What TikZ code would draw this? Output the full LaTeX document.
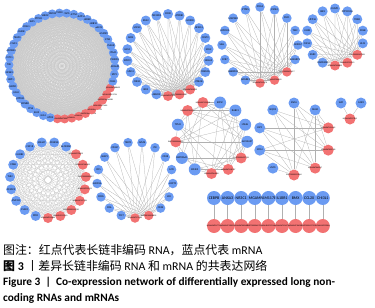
\documentclass[tikz,border=0pt]{standalone}
\usepackage{fontspec}
\setmainfont{Carlito}
\newfontfamily\cjk{Noto Sans CJK SC}
\usepackage{tikz}
\usetikzlibrary{backgrounds}
\definecolor{mrnablue}{HTML}{6B9BF2}
\definecolor{lncred}{HTML}{F27272}
\definecolor{edgegray}{HTML}{B0B0B0}

\begin{document}
\begin{tikzpicture}[x=1pt,y=1pt,
  mrna/.style={circle,inner sep=0pt,fill=mrnablue},
  lnc/.style={circle,inner sep=0pt,fill=lncred},
  lbl/.style={font=\fontsize{2.6}{3}\selectfont,inner sep=0pt},
  rlbl/.style={font=\fontsize{2}{2.4}\selectfont,inner sep=0pt},
  edge/.style={draw=edgegray,line width=0.25pt},
  dense/.style={draw=edgegray!70,line width=0.1pt}]
\path[use as bounding box] (0,0) rectangle (375,-308);

% Network 1: large ring, lncRNAs on the lower right, every pair linked.
\begin{scope}[shift={(62,-66)},minimum size=9pt]
\foreach \g [count=\k from 0] in {NONHSAT069814,ENST00000602414,
    NONHSAT102795,NONHSAT136651,ENST00000432916,NONHSAT050721,
    NONHSAT113485,ENST00000569381,NONHSAT021734,NONHSAT088432}
  \node[lnc,label={[rlbl,anchor=east,xshift=3pt]center:\g}] (a\k)
    at (-95+7.826*\k:53) {};
\foreach \g [count=\k from 10] in {CD44,SPP1,ADAM8,TXNRD1,ITGA5,PLAUR,
    ETS2,HMOX1,NACC2,GRB10,ARRB2,MMP14,DCTN1,CAPG,TGFBI,FBXO32,HBEGF,
    PTPN2,KLF5,FOSL1,RHOB,TEAD1,LYVE1,ADORA3,SYT11,TXK,NFKB1,NRP1,
    HSPB1,GAS1,ATP1B1,EDNRB,CTSK,ELK3,GJA1,APOE}
  \node[mrna,label={[lbl]center:\g}] (a\k) at (-95+7.826*\k:53) {};
\end{scope}
\begin{scope}[on background layer]
\foreach \i in {0,...,44}{
  \pgfmathtruncatemacro\nxt{\i+1}
  \foreach \j in {\nxt,...,45} \draw[dense] (a\i) -- (a\j);}
\end{scope}

% Network 2: ring with three lncRNAs at the bottom.
\begin{scope}[shift={(168,-55)},minimum size=10pt]
\foreach \g [count=\k from 0] in {NONHSAT097446,ENST00000519387,
    NONHSAT050132}
  \node[lnc,label={[rlbl]center:\g}] (b\k) at (-90+16.364*\k:41) {};
\foreach \g [count=\k from 3] in {PDE4B,CDKN1A,NR4A3,SCG2,CCNT2,NFE2L3,
    HOXC8,ATP8B1,CD38,TSC22D3,RGS2,SOCS3,ADM,HES1,SPRY2,MNS1,CREM,
    IER5,ABHD5}
  \node[mrna,label={[lbl]center:\g}] (b\k) at (-90+16.364*\k:41) {};
\end{scope}
\begin{scope}[on background layer]
\foreach \i in {0,1,2}
  \foreach \j in {3,...,21} \draw[edge] (b\i) -- (b\j);
\end{scope}

% Network 3
\begin{scope}[shift={(260,-45)},minimum size=9.5pt]
\foreach \g [count=\k from 0] in {NONHSAT142370,NONHSAT006695,
    ENST00000453427}
  \node[lnc,label={[rlbl]center:\g}] (c\k) at (-90+22.5*\k:38) {};
\foreach \g [count=\k from 3] in {RASGRP1,MXRA7,TESC,PLD1,CXCR4,FCRL5,
    PTPRS,MAP3K8,GPR183,SELL,CCR7,ANKRD22,ADGRE3}
  \node[mrna,label={[lbl]center:\g}] (c\k) at (-90+22.5*\k:38) {};
\end{scope}
\begin{scope}[on background layer]
\foreach \i in {0,1,2}
  \foreach \j in {3,...,15} \draw[edge] (c\i) -- (c\j);
\end{scope}

% Network 4
\begin{scope}[shift={(335,-37)},minimum size=10pt]
\foreach \g [count=\k from 0] in {NONHSAT180022,NONHSAT074153,
    ENST00000627981}
  \node[lnc,label={[rlbl]center:\g}] (d\k) at (-90+25.714*\k:28.5) {};
\foreach \g [count=\k from 3] in {KLF4,FOSB,TRIB1,PPP1R15A,DUSP1,IER3,
    ZFP36,JUNB,CXCL2,EGR3,GADD45B}
  \node[mrna,label={[lbl]center:\g}] (d\k) at (-90+25.714*\k:28.5) {};
\end{scope}
\begin{scope}[on background layer]
\foreach \i in {0,1,2}
  \foreach \j in {3,...,13} \draw[edge] (d\i) -- (d\j);
\end{scope}

% Network 5: dense ring, every pair linked.
\begin{scope}[shift={(48,-180)},minimum size=10pt]
\foreach \g [count=\k from 0] in {NONHSAT015864,NONHSAT193310,
    ENST00000414790,NONHSAT127784,NONHSAT039251,ENST00000589027,
    NONHSAT160429,NONHSAT078623}
  \node[lnc,label={[rlbl]center:\g}] (e\k) at (-90+18.947*\k:38) {};
\foreach \g [count=\k from 8] in {ALOX5AP,FCGR3A,MS4A7,CSF1R,LILRB2,
    CD86,TLR2,PLXDC2,ZNF331,C5AR1,FPR1}
  \node[mrna,label={[lbl]center:\g}] (e\k) at (-90+18.947*\k:38) {};
\end{scope}
\begin{scope}[on background layer]
\foreach \i in {0,...,17}{
  \pgfmathtruncatemacro\nxt{\i+1}
  \foreach \j in {\nxt,...,18} \draw[dense,draw=edgegray!80] (e\i) -- (e\j);}
\end{scope}

% Network 6: fan converging on two lncRNAs.
\begin{scope}[shift={(135,-180)},minimum size=9.5pt]
\foreach \g [count=\k from 0] in {NONHSAT171205,ENST00000508832}
  \node[lnc,label={[rlbl]center:\g}] (f\k) at (-90+21.176*\k:38) {};
\foreach \g [count=\k from 2] in {CD3E,LCK,ZAP70,IL7R,CD28,ITK,GZMK,
    TRAT1,CD247,SKAP1,CD5,SH2D1A,CD96,CD6,TCF7}
  \node[mrna,label={[lbl]center:\g}] (f\k) at (-90+21.176*\k:38) {};
\end{scope}
\begin{scope}[on background layer]
\foreach \i in {0,1}
  \foreach \j in {2,...,16} \draw[edge] (f\i) -- (f\j);
\end{scope}

% Network 7: mixed ring.
\begin{scope}[shift={(211.5,-137.5)},minimum size=11pt]
\foreach \a/\g [count=\k from 0] in {-90/NONHSAT046890,
    -62.3/NONHSAT118307,-34.6/ENST00000437781,103.8/NONHSAT132668,
    131.5/NONHSAT004592,186.9/ENST00000566529}
  \node[lnc,label={[rlbl]center:\g}] (g\k) at (\a:36) {};
\foreach \a/\g [count=\k from 0] in {-6.9/SLC25A37,20.8/LTA4H,
    48.5/RAB31,76.2/KIF5C,-117.7/EIF4E3,-145.4/HSP90AA1,159.2/TPM2}
  \node[mrna,minimum size=12pt,label={[lbl]center:\g}] (h\k) at (\a:36) {};
\end{scope}
\begin{scope}[on background layer]
\foreach \i in {0,...,5}
  \foreach \j in {0,...,6} \draw[edge] (g\i) -- (h\j);
\end{scope}

% Network 8
\begin{scope}[shift={(294,-139)},minimum size=11pt]
\foreach \g [count=\k from 0] in {ENST00000553804,NONHSAT062917,
    NONHSAT099358,NONHSAT151642}
  \node[lnc,label={[rlbl]center:\g}] (p\k) at (-90+36*\k:36) {};
\foreach \g [count=\k from 4] in {MAS1,SNCA,NQO2,LSP1,MYL4,USO1}
  \node[mrna,label={[lbl]center:\g}] (p\k) at (-90+36*\k:36) {};
\end{scope}
\begin{scope}[on background layer]
\foreach \i in {0,...,3}
  \foreach \j in {4,...,8} \draw[edge] (p\i) -- (p\j);
\draw[edge] (p0) -- (p9);
\end{scope}

% Network 9
\begin{scope}[minimum size=11pt]
\node[lnc,label={[rlbl]center:NONHSAT027815}] (s0) at (350,-119) {};
\node[mrna,label={[lbl]center:SLPI}] (s1) at (341,-103) {};
\node[mrna,label={[lbl]center:IL1R2}] (s2) at (361,-103) {};
\end{scope}
\begin{scope}[on background layer]
\draw[edge] (s0) -- (s1);
\draw[edge] (s0) -- (s2);
\end{scope}

% Network 10: one-to-one pairs in a row.
\begin{scope}[minimum size=14pt]
\foreach \g [count=\k from 0] in {CEBPB,ANXA3,NR3C1,MGAM,FAM117B,
    IL18R1,BMX,CCL20,CHI3L1}
  \node[mrna,label={[lbl,font=\fontsize{4}{4.5}\selectfont]center:\g}]
    (t\k) at (214+13.6*\k,-198) {};
\foreach \g [count=\k from 0] in {NONHSAT047713,NONHSAT138022,
    NONHSAT009481,ENST00000417255,NONHSAT071946,NONHSAT124570,
    NONHSAT186303,ENST00000579214,NONHSAT033861}
  \node[lnc,label={[rlbl]center:\g}] (r\k) at (214+13.6*\k,-226) {};
\end{scope}
\begin{scope}[on background layer]
\foreach \k in {0,...,8} \draw[edge] (t\k) -- (r\k);
\end{scope}

% Caption
\node[anchor=west,inner sep=0pt,font=\fontsize{11.9}{13}\selectfont]
  (note) at (3,-250) {{\cjk 图注：红点代表长链非编码} RNA{\cjk ，蓝点代表} mRNA};
\node[anchor=west,inner sep=0pt,font=\fontsize{11.9}{13}\selectfont]
  (titlecn) at (3,-266)
  {{\cjk\bfseries 图} \textbf{3} {\cjk 丨差异长链非编码} RNA {\cjk 和} mRNA
   {\cjk 的共表达网络}};
\node[anchor=west,inner sep=0pt,font=\bfseries\fontsize{11.3}{12}\selectfont]
  (titleen) at (3,-282)
  {Figure 3 \ | \ Co-expression network of differentially expressed long non-};
\node[anchor=west,inner sep=0pt,font=\bfseries\fontsize{11.3}{12}\selectfont]
  (titleen2) at (3,-298) {coding RNAs and mRNAs};
\end{tikzpicture}
\end{document}
